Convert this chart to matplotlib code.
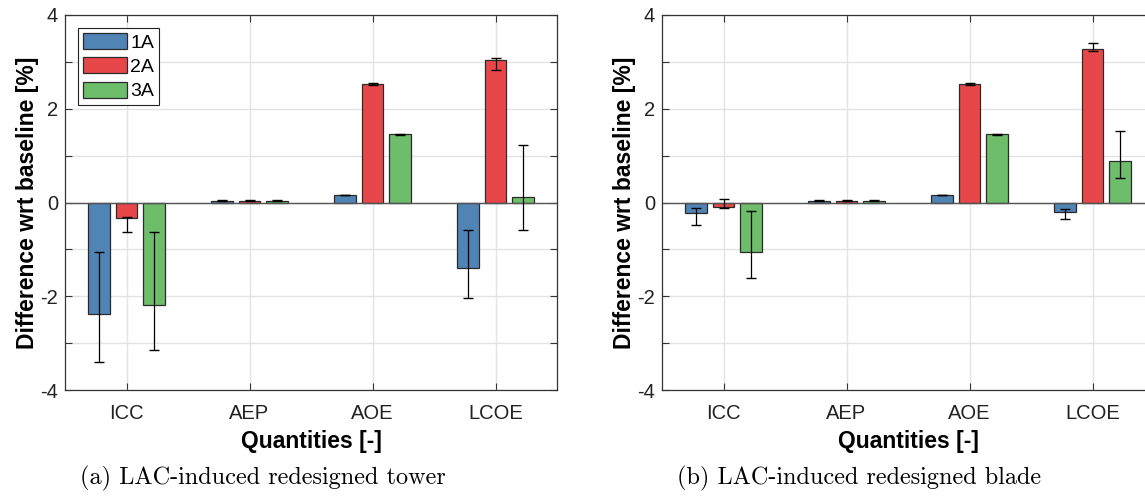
import matplotlib
matplotlib.use("Agg")
import matplotlib.pyplot as plt
import numpy as np
from matplotlib.patches import Patch

categories = ["ICC", "AEP", "AOE", "LCOE"]
series = ["1A", "2A", "3A"]
colors = ["#4F84B4", "#E8474A", "#6DBD6B"]

# Panel (a): LAC-induced redesigned tower
a_1A = [-2.38, 0.04, 0.157, -1.40]
a_2A = [-0.336, 0.04, 2.53, 3.05]
a_3A = [-2.19, 0.04, 1.457, 0.107]
a_1A_lo = [-3.40, 0.03, 0.150, -2.03]
a_1A_hi = [-1.06, 0.05, 0.164, -0.586]
a_2A_lo = [-0.62, 0.03, 2.515, 2.836]
a_2A_hi = [-0.307, 0.05, 2.545, 3.086]
a_3A_lo = [-3.15, 0.03, 1.445, -0.593]
a_3A_hi = [-0.63, 0.05, 1.470, 1.23]

# Panel (b): LAC-induced redesigned blade
b_1A = [-0.22, 0.04, 0.157, -0.193]
b_2A = [-0.086, 0.04, 2.53, 3.27]
b_3A = [-1.064, 0.04, 1.457, 0.893]
b_1A_lo = [-0.486, 0.03, 0.150, -0.343]
b_1A_hi = [-0.114, 0.05, 0.164, -0.129]
b_2A_lo = [-0.12, 0.03, 2.515, 3.236]
b_2A_hi = [0.079, 0.05, 2.545, 3.40]
b_3A_lo = [-1.60, 0.03, 1.445, 0.529]
b_3A_hi = [-0.186, 0.05, 1.470, 1.536]

yticks = [-4, -3, -2, -1, 0, 1, 2, 3, 4]
ytick_labels = ["-4", "", "-2", "", "0", "", "2", "", "4"]
xlabel = "Quantities [-]"
ylabel = "Difference wrt baseline [%]"
captions = ["(a) LAC-induced redesigned tower", "(b) LAC-induced redesigned blade"]

plt.rcParams['font.family'] = ['Liberation Sans', 'DejaVu Sans']

fig = plt.figure(figsize=(11.45, 4.97), dpi=100)
W, H = 1145, 497
ax1 = fig.add_axes([65 / W, (H - 390) / H, 492 / W, 375 / H])
ax2 = fig.add_axes([662 / W, (H - 390) / H, 492 / W, 375 / H])

panels = [
    (ax1, [a_1A, a_2A, a_3A], [a_1A_lo, a_2A_lo, a_3A_lo], [a_1A_hi, a_2A_hi, a_3A_hi]),
    (ax2, [b_1A, b_2A, b_3A], [b_1A_lo, b_2A_lo, b_3A_lo], [b_1A_hi, b_2A_hi, b_3A_hi]),
]

x = np.arange(1, len(categories) + 1)
offset = 0.2222
width = 0.178

for ax, vals, los, his in panels:
    ax.set_axisbelow(True)
    for i, (v, lo, hi) in enumerate(zip(vals, los, his)):
        v = np.array(v); lo = np.array(lo); hi = np.array(hi)
        xpos = x + (i - 1) * offset
        ax.bar(xpos, v, width, color=colors[i], edgecolor="#2b2b2b", linewidth=0.9, zorder=2)
        yerr = np.vstack([np.abs(v - lo), np.abs(hi - v)])
        ax.errorbar(xpos, v, yerr=yerr, fmt="none", ecolor="black", elinewidth=0.9,
                    capsize=3.7, capthick=1.0, zorder=3)
    ax.axhline(0, color="#555555", linewidth=1.0, zorder=2.5)
    ax.set_xlim(0.5, 4.5)
    ax.set_ylim(-4, 4)
    ax.set_xticks(x)
    ax.set_xticklabels(categories, fontsize=14.5)
    ax.set_yticks(yticks)
    ax.set_yticklabels(ytick_labels, fontsize=14.5)
    ax.grid(True, color="#e3e3e3", linewidth=1.0)
    ax.tick_params(direction="in", top=True, right=True, length=5, width=0.8,
                   color="#333333", labelcolor="#222222")
    ax.tick_params(axis="x", pad=10)
    ax.tick_params(axis="y", pad=5)
    for s in ax.spines.values():
        s.set_color("#333333")
        s.set_linewidth(0.9)
    ax.set_xlabel(xlabel, fontsize=16.5, fontweight="bold", labelpad=5)
    ax.set_ylabel(ylabel, fontsize=16.5, fontweight="bold", labelpad=1)

handles = [Patch(facecolor=colors[i], edgecolor="#2b2b2b", linewidth=0.9, label=series[i]) for i in range(3)]
leg = ax1.legend(handles=handles, loc="upper left", bbox_to_anchor=(0.026, 0.965), fontsize=14,
                 frameon=True, fancybox=False, edgecolor="#222222", framealpha=1,
                 handlelength=2.3, handleheight=0.87, handletextpad=0.15, borderpad=0.25,
                 labelspacing=0.3, borderaxespad=0)
leg.get_frame().set_linewidth(0.8)

fig.text(80 / W, 1 - 478 / H, captions[0], family=["cmr10", "DejaVu Serif"], fontsize=17.5,
         ha="left", va="center")
fig.text(677 / W, 1 - 478 / H, captions[1], family=["cmr10", "DejaVu Serif"], fontsize=17.5,
         ha="left", va="center")

fig.savefig("out.png", dpi=100)
